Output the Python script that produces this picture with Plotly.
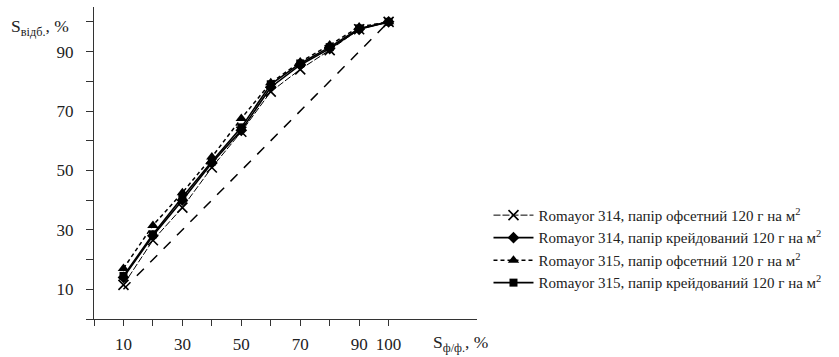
import plotly.graph_objects as go

x_vals = [10, 20, 30, 40, 50, 60, 70, 80, 90, 100]
s1_offset_314 = [11.5, 26.5, 37.5, 51, 63, 76.5, 84, 90.5, 97.5, 100]
s2_coated_314 = [14, 28, 40, 52.5, 63.5, 78, 85.5, 91, 97.5, 100]
s3_offset_315 = [17, 31.5, 42.5, 54.5, 67.5, 79.5, 86.5, 92.2, 98.3, 100]
s4_coated_315 = [14.5, 28.5, 41, 53, 64.5, 79, 86, 91.5, 97.8, 100]
diag_x = [10, 100]
diag_y = [10, 100]

names = [
    "Romayor 314, папір офсетний 120 г на м<sup>2</sup>",
    "Romayor 314, папір крейдований 120 г на м<sup>2</sup>",
    "Romayor 315, папір офсетний 120 г на м<sup>2</sup>",
    "Romayor 315, папір крейдований 120 г на м<sup>2</sup>",
]

x_tickvals = [0, 10, 20, 30, 40, 50, 60, 70, 80, 90, 100]
x_ticktext = ["", "10", "", "30", "", "50", "", "70", "", "90", "100"]
y_tickvals = [0, 10, 20, 30, 40, 50, 60, 70, 80, 90, 100]
y_ticktext = ["", "10", "", "30", "", "50", "", "70", "", "90", ""]

FONT = "'Liberation Serif', 'Times New Roman', serif"
fig = go.Figure()

fig.add_trace(go.Scatter(x=diag_x, y=diag_y, mode="lines", showlegend=False,
                         line=dict(color="black", width=1.5, dash="10px,9px")))
fig.add_trace(go.Scatter(x=x_vals, y=s1_offset_314, mode="lines+markers", name=names[0],
                         line=dict(color="black", width=1, dash="7px,2px"),
                         marker=dict(symbol="x-thin", size=10, color="black",
                                     line=dict(width=1.6, color="black"))))
fig.add_trace(go.Scatter(x=x_vals, y=s2_coated_314, mode="lines+markers", name=names[1],
                         line=dict(color="black", width=1.6),
                         marker=dict(symbol="diamond", size=9, color="black")))
fig.add_trace(go.Scatter(x=x_vals, y=s3_offset_315, mode="lines+markers", name=names[2],
                         line=dict(color="black", width=1.5, dash="4px,3px"),
                         marker=dict(symbol="triangle-up", size=10, color="black")))
fig.add_trace(go.Scatter(x=x_vals, y=s4_coated_315, mode="lines+markers", name=names[3],
                         line=dict(color="black", width=1.6),
                         marker=dict(symbol="square", size=8, color="black")))

fig.update_layout(
    width=839, height=357,
    margin=dict(l=94, r=362, t=7, b=38, autoexpand=False),
    paper_bgcolor="white", plot_bgcolor="white",
    font=dict(family=FONT, color="#222", size=16),
    showlegend=True,
    legend=dict(x=1.03, y=0.385, xanchor="left", yanchor="top",
                font=dict(family=FONT, size=15, color="#222"),
                tracegroupgap=0, itemwidth=40, bgcolor="rgba(0,0,0,0)"),
    xaxis=dict(range=[0, 130], showgrid=False, zeroline=False, automargin=False,
               showline=True, linecolor="#333", linewidth=1,
               ticks="outside", ticklen=6, tickcolor="#333",
               tickvals=x_tickvals, ticktext=x_ticktext,
               ticklabelstandoff=4,
               tickfont=dict(family=FONT, size=17, color="#222")),
    yaxis=dict(range=[0, 105], showgrid=False, zeroline=False, automargin=False,
               showline=True, linecolor="#333", linewidth=1,
               ticks="outside", ticklen=7, tickcolor="#333",
               tickvals=y_tickvals, ticktext=y_ticktext,
               ticklabelstandoff=9,
               tickfont=dict(family=FONT, size=17, color="#222")),
    annotations=[
        dict(text="S<sub>відб.</sub>, %", xref="paper", yref="paper",
             x=-0.222, y=0.935, xanchor="left", yanchor="middle", showarrow=False,
             font=dict(family=FONT, size=17.5, color="#222")),
        dict(text="S<sub>ф/ф.</sub>, %", xref="paper", yref="paper",
             x=0.88, y=-0.035, xanchor="left", yanchor="top", showarrow=False,
             font=dict(family=FONT, size=17.5, color="#222")),
    ],
)

fig.write_html("out.html")
